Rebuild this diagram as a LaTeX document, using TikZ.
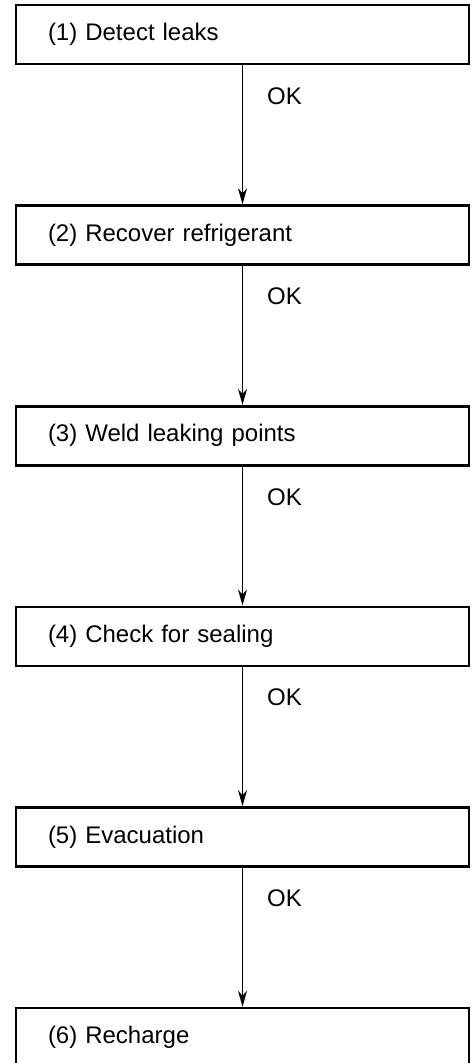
\documentclass[tikz,border=0pt]{standalone}
\usepackage{fontspec}
\setmainfont{Liberation Sans}
\usetikzlibrary{arrows.meta,positioning}

\begin{document}
\begin{tikzpicture}[x=1pt, y=1pt, >={Stealth[length=16pt,width=9pt,inset=5pt]},
                    every node/.style={font=\fontsize{24}{28}\selectfont},
                    stepbox/.style={draw, line width=2.6pt, minimum width=453pt,
                                    minimum height=59pt, inner xsep=32pt,
                                    text width=389pt, align=left},
                    oklabel/.style={anchor=west, inner sep=0pt, xshift=24pt, pos=0.22}]
  \useasboundingbox (0,0) rectangle (472,-1063);
  \clip (0,0) rectangle (472,-1063);
  % repair steps, top to bottom
  \node[stepbox] (s1) at (242.5,-34.5) {(1) Detect leaks};
  \node[stepbox, below=139pt of s1] (s2) {(2) Recover refrigerant};
  \node[stepbox, below=139pt of s2] (s3) {(3) Weld leaking points};
  \node[stepbox, below=139pt of s3] (s4) {(4) Check for sealing};
  \node[stepbox, below=139pt of s4] (s5) {(5) Evacuation};
  \node[stepbox, below=139pt of s5] (s6) {(6) Recharge};
  % OK arrows between the steps
  \draw[->, line width=1.3pt] (s1) -- node[oklabel] (ok1) {OK} (s2);
  \draw[->, line width=1.3pt] (s2) -- node[oklabel] (ok2) {OK} (s3);
  \draw[->, line width=1.3pt] (s3) -- node[oklabel] (ok3) {OK} (s4);
  \draw[->, line width=1.3pt] (s4) -- node[oklabel] (ok4) {OK} (s5);
  \draw[->, line width=1.3pt] (s5) -- node[oklabel] (ok5) {OK} (s6);
\end{tikzpicture}
\end{document}
